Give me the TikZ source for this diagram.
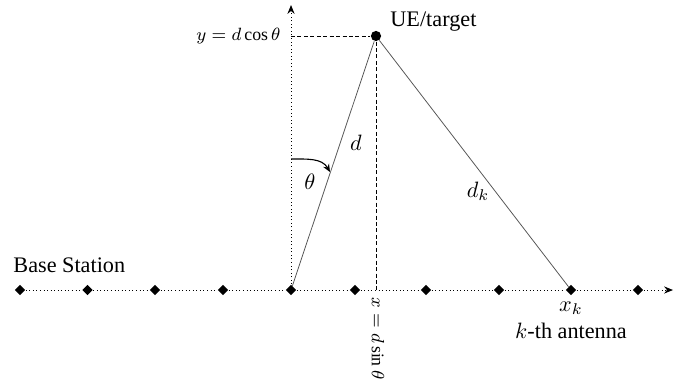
\documentclass[tikz,border=0pt]{standalone}
\usepackage{fontspec}
\setmainfont{Liberation Serif}[Ligatures=TeX]
\newfontfamily\labelfont{Liberation Serif}
\usetikzlibrary{arrows.meta, positioning, shapes.geometric}
\definecolor{raygray}{HTML}{555555}

\begin{document}
\begin{tikzpicture}[x=0.45pt, y=0.45pt, every node/.style={font=\labelfont},
    antenna/.style={diamond, fill=black, inner sep=0pt, minimum size=4.8pt},
    axisline/.style={dash pattern=on 0.4pt off 1.2pt, line width=0.45pt},
    projline/.style={dash pattern=on 1.8pt off 1.1pt, line width=0.4pt},
    rayline/.style={raygray, line width=0.35pt}]
                \useasboundingbox (-291,-92) rectangle (402,290);
                % antennas along the array
                \foreach \i/\xx in {1/-271, 2/-203.5, 3/-136, 4/-68, 5/0, 6/64, 7/135, 8/208, 9/280, 10/347}
                    \node[antenna] (ant\i) at (\xx,0) {};
                \foreach \i [evaluate=\i as \j using int(\i+1)] in {1,...,9}
                    \draw[axisline] (ant\i) -- (ant\j);
                \coordinate (xend) at (382,0);
                \coordinate (ytop) at (0,285);
                \draw[axisline, -{Stealth[length=4pt, width=3.2pt]}] (ant10) -- (xend);
                \draw[axisline, -{Stealth[length=4pt, width=3.2pt]}] (ant5) -- (ytop);
                % target
                \node[circle, fill=black, inner sep=0pt, minimum size=4.6pt] (ue) at (85,254) {};
                \coordinate (yproj) at (0,254);
                \coordinate (xproj) at (85,0);
                \draw[projline] (yproj) -- (ue);
                \draw[projline] (ue) -- (xproj);
                \draw[rayline] (ue) -- (ant5);
                \draw[rayline] (ue) -- (ant9);
                % angle
                \coordinate (arcstart) at (0,131);
                \coordinate (arcend) at (39,118);
                \draw[line width=0.5pt, -{Stealth[length=3.5pt, width=3pt]}] (arcstart) to[out=0, in=120] (arcend);
                % labels
                \node[anchor=west, inner sep=0pt] (uelabel) at (99,268) {UE/target};
                \node[anchor=east, inner sep=0pt, font=\footnotesize] (ylabel) at (-10,254) {$y=d\cos\theta$};
                \node[anchor=west, rotate=-90, inner sep=0pt, font=\footnotesize] (xlabel) at (87,-7) {$x=d\sin\theta$};
                \node (dlabel) at (65,147) {$d$};
                \node (thetalabel) at (19,108) {$\theta$};
                \node (dklabel) at (187,99) {$d_k$};
                \node (xklabel) at (280,-18) {$x_k$};
                \node (klabel) at (280,-41) {$k$-th antenna};
                \node[anchor=west, inner sep=0pt] (bslabel) at (-278,25) {Base Station};
            \end{tikzpicture}
\end{document}
